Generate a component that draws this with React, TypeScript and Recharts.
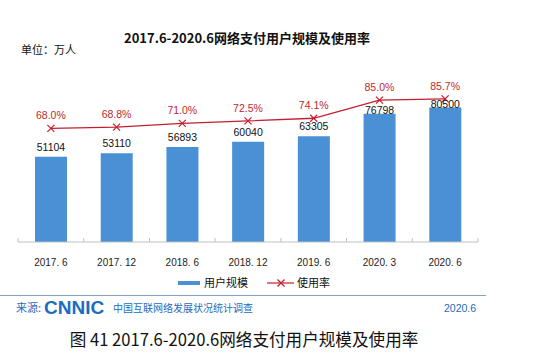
import React from 'react';
import { ComposedChart, Bar, Line, XAxis, YAxis, LabelList } from 'recharts';

const categories = ['2017. 6', '2017. 12', '2018. 6', '2018. 12', '2019. 6', '2020. 3', '2020. 6'];
const users = [51104, 53110, 56893, 60040, 63305, 76798, 80500];
const rates = [68.0, 68.8, 71.0, 72.5, 74.1, 85.0, 85.7];

const data = categories.map((c, i) => ({ name: c, users: users[i], rate: rates[i] }));

const W = 560;
const H = 359;
const M = { top: 75, left: 18, right: 82, bottom: 87 };
const PLOT_W = W - M.left - M.right;

const BLUE = '#4A90D4';
const RED = '#C41E2E';
const LABEL_RED = '#C0282D';
const FOOT_BLUE = '#1F6BBE';
const CJK = '"Noto Sans CJK SC", "Noto Sans", sans-serif';
const LAT = '"Liberation Sans", Arial, sans-serif';

const XTick = (props: any) => {
  const { x, y, payload, index } = props;
  const band = PLOT_W / categories.length;
  return (
    <g>
      <line x1={x - band / 2} x2={x - band / 2} y1={y - 4} y2={y} stroke="#BFBFBF" />
      {index === categories.length - 1 && (
        <line x1={x + band / 2} x2={x + band / 2} y1={y - 4} y2={y} stroke="#BFBFBF" />
      )}
      <text x={x} y={y + 20} textAnchor="middle" dominantBaseline="central" fontFamily={LAT} fontSize={10} fill="#222">
        {payload.value}
      </text>
    </g>
  );
};

const CrossDot = (props: any) => {
  const { cx, cy } = props;
  if (cx == null || cy == null) return null;
  const s = 3.5;
  return (
    <g>
      <line x1={cx - s} y1={cy - s} x2={cx + s} y2={cy + s} stroke={RED} strokeWidth={1.2} />
      <line x1={cx - s} y1={cy + s} x2={cx + s} y2={cy - s} stroke={RED} strokeWidth={1.2} />
    </g>
  );
};

const BarValueLabel = (props: any) => {
  const { x, y, width, value, index } = props;
  const off = index >= 5 ? 0 : 6;
  return (
    <text x={x + width / 2} y={y - off} textAnchor="middle" fontFamily={LAT} fontSize={10.5} fill="#111">
      {value}
    </text>
  );
};

const RateLabel = (props: any) => {
  const { x, y, value } = props;
  return (
    <text x={x} y={y - 9} textAnchor="middle" fontFamily={LAT} fontSize={10.5} fill={LABEL_RED}>
      {value.toFixed(1)}%
    </text>
  );
};

const abs = (s: React.CSSProperties): React.CSSProperties => ({ position: 'absolute', whiteSpace: 'nowrap', lineHeight: 1, ...s });

export default function App() {
  return (
    <div style={{ position: 'absolute', left: 0, top: 0, width: W, height: H, background: '#fff', overflow: 'hidden' }}>
      <div style={{ position: 'absolute', left: 0, top: 0 }}>
        <ComposedChart width={W} height={H} data={data} margin={M}>
          <XAxis
            dataKey="name"
            height={30}
            tickLine={false}
            tickSize={0}
            tickMargin={0}
            axisLine={{ stroke: '#BFBFBF' }}
            tick={<XTick />}
            interval={0}
          />
          <YAxis yAxisId="left" hide domain={[0, 100000]} />
          <YAxis yAxisId="right" hide orientation="right" domain={[0, 100]} />
          <Bar yAxisId="left" dataKey="users" fill={BLUE} barSize={32} isAnimationActive={false}>
            <LabelList dataKey="users" content={<BarValueLabel />} />
          </Bar>
          <Line
            yAxisId="right"
            dataKey="rate"
            stroke={RED}
            strokeWidth={1.3}
            dot={<CrossDot />}
            activeDot={false}
            isAnimationActive={false}
          >
            <LabelList dataKey="rate" content={<RateLabel />} />
          </Line>
        </ComposedChart>
      </div>

      <div style={abs({ left: 0, width: 494, top: 31, textAlign: 'center', fontFamily: CJK, fontWeight: 'bold', fontSize: 13, color: '#111' })}>
        2017.6-2020.6网络支付用户规模及使用率
      </div>
      <div style={abs({ left: 21, top: 44, fontFamily: CJK, fontSize: 11, color: '#111' })}>单位：万人</div>

      {/* legend */}
      <div style={abs({ left: 178, top: 281, width: 22, height: 4, background: BLUE })} />
      <div style={abs({ left: 204, top: 277, fontFamily: CJK, fontSize: 11, color: '#111' })}>用户规模</div>
      <svg width={28} height={10} style={{ position: 'absolute', left: 267, top: 278 }}>
        <line x1={0} y1={5} x2={27} y2={5} stroke={RED} strokeWidth={1.2} />
        <line x1={10.5} y1={1.5} x2={17.5} y2={8.5} stroke={RED} strokeWidth={1.2} />
        <line x1={10.5} y1={8.5} x2={17.5} y2={1.5} stroke={RED} strokeWidth={1.2} />
      </svg>
      <div style={abs({ left: 297, top: 277, fontFamily: CJK, fontSize: 11, color: '#111' })}>使用率</div>

      {/* footer */}
      <div style={abs({ left: 0, top: 295, width: 486, height: 1, background: '#7FA3C6' })} />
      <div style={abs({ left: 16, top: 302, fontFamily: CJK, fontSize: 11, color: FOOT_BLUE })}>来源:</div>
      <div style={abs({ left: 44, top: 298, fontFamily: LAT, fontWeight: 'bold', fontSize: 19, color: '#1A6DC0' })}>CNNIC</div>
      <div style={abs({ left: 113, top: 303, fontFamily: CJK, fontSize: 10, color: FOOT_BLUE })}>中国互联网络发展状况统计调查</div>
      <div style={abs({ left: 444, top: 303, fontFamily: LAT, fontSize: 10.5, color: FOOT_BLUE })}>2020.6</div>

      <div style={abs({ left: 0, width: 488, top: 331, textAlign: 'center', fontFamily: CJK, fontSize: 16.6, color: '#111' })}>
        图 41 2017.6-2020.6网络支付用户规模及使用率
      </div>
    </div>
  );
}
